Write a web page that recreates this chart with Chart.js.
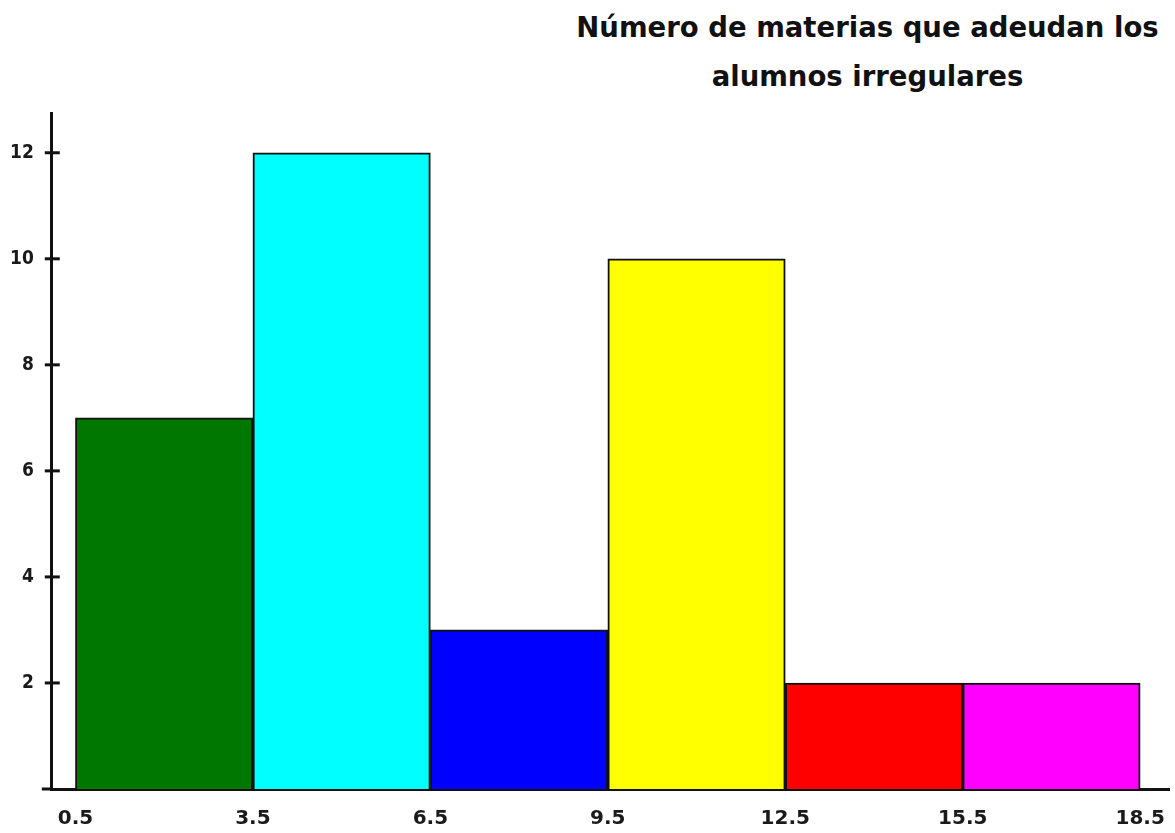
<!DOCTYPE html>
<html>
<head>
<meta charset="utf-8">
<script src="https://cdn.jsdelivr.net/npm/chart.js@4/dist/chart.umd.min.js"></script>
<style>
  html, body { margin: 0; padding: 0; background: #fff; }
  #wrap { position: relative; width: 1175px; height: 833px; }
  #titulo {
    position: absolute; left: 560px; top: 3px; width: 615px;
    text-align: center; font-family: "DejaVu Sans", sans-serif; font-weight: bold;
    font-size: 27.5px; line-height: 49px; color: #111;
  }
  canvas { position: absolute; left: 0; top: 0; }
</style>
</head>
<body>
<div id="wrap">
  <div id="titulo">Número de materias que adeudan los<br>alumnos irregulares</div>
  <canvas id="grafica" width="1175" height="833"></canvas>
</div>
<script>
// limites de clase y frecuencias
let limites = [0.5, 3.5, 6.5, 9.5, 12.5, 15.5, 18.5];
let frecuencias = [7, 12, 3, 10, 2, 2];
let colores = ['#007800', '#00ffff', '#0000ff', '#ffff00', '#ff0000', '#ff00ff'];
let ticksY = [2, 4, 6, 8, 10, 12];

// cada barra va centrada en la marca de clase
let puntos = [];
for (let i = 0; i < frecuencias.length; i++) {
  puntos.push({ x: (limites[i] + limites[i + 1]) / 2, y: frecuencias[i] });
}

// rayitas de los ticks del eje y, cruzando la linea, y el eje x un poco mas largo
const marcasY = {
  id: 'marcasY',
  afterDraw(chart) {
    let ctx = chart.ctx;
    let ejeY = chart.scales.y;
    let area = chart.chartArea;
    ctx.save();
    ctx.strokeStyle = '#111';
    ctx.lineWidth = 3;
    for (let i = 0; i < ticksY.length; i++) {
      let py = ejeY.getPixelForValue(ticksY[i]);
      ctx.beginPath();
      ctx.moveTo(area.left - 7, py);
      ctx.lineTo(area.left + 8, py);
      ctx.stroke();
    }
    let base = ejeY.getPixelForValue(0);
    ctx.beginPath();
    ctx.moveTo(area.left - 10, base);
    ctx.lineTo(area.left, base);
    ctx.stroke();
    ctx.restore();
  }
};

let ctx = document.getElementById('grafica').getContext('2d');
let chart = new Chart(ctx, {
  type: 'bar',
  data: {
    datasets: [{
      data: puntos,
      backgroundColor: colores,
      borderColor: '#111',
      borderWidth: 2,
      borderSkipped: 'bottom',
      barPercentage: 1,
      categoryPercentage: 1
    }]
  },
  options: {
    responsive: false,
    animation: false,
    layout: { padding: { top: 113, left: 0, right: 5, bottom: -8 } },
    plugins: { legend: { display: false }, tooltip: { enabled: false } },
    scales: {
      x: {
        type: 'linear',
        offset: false,
        min: 0.1,
        max: 19,
        afterBuildTicks: (axis) => { axis.ticks = limites.map(v => ({ value: v })); },
        ticks: {
          autoSkip: false,
          maxRotation: 0,
          padding: 10,
          color: '#1a1a1a',
          font: { family: 'DejaVu Sans', weight: 'bold', size: 20 },
          callback: (v) => v.toFixed(1)
        },
        grid: { display: false },
        border: { color: '#111', width: 3 }
      },
      y: {
        min: 0,
        max: 12.75,
        afterBuildTicks: (axis) => { axis.ticks = ticksY.map(v => ({ value: v })); },
        ticks: {
          padding: 10,
          color: '#1a1a1a',
          font: { family: 'DejaVu Sans Condensed', weight: 'bold', size: 19 }
        },
        grid: { drawOnChartArea: false, drawTicks: true, tickLength: 8, color: 'rgba(0,0,0,0)' },
        border: { color: '#111', width: 3 }
      }
    }
  },
  plugins: [marcasY]
});
</script>
</body>
</html>
